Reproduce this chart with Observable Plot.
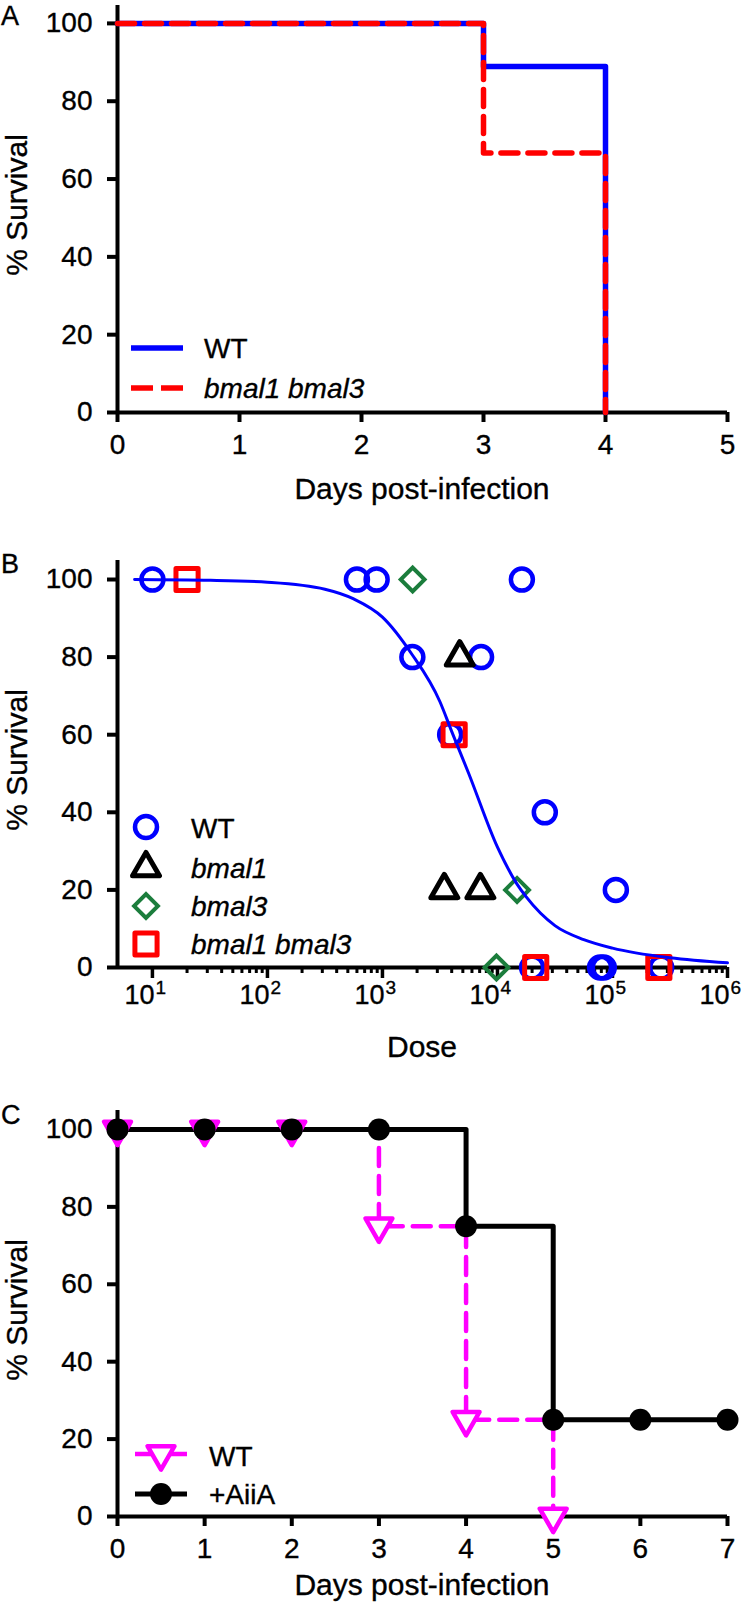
<!DOCTYPE html>
<html><head><meta charset="utf-8">
<script src="https://cdn.jsdelivr.net/npm/d3@7"></script>
<script src="https://cdn.jsdelivr.net/npm/@observablehq/plot@0.6"></script>
<style>
body{margin:0;background:#fff;font-family:"Liberation Sans",Arial,sans-serif;}
#root{position:relative;width:750px;height:1606px;overflow:hidden;background:#fff;}
.panel{position:absolute;left:0;}
#overlay{position:absolute;left:0;top:0;pointer-events:none;}
svg text{stroke:#000;stroke-width:0.35px;}
</style></head><body><div id="root"></div>
<script>
// ---------- Panel A data ----------
const daysA = [0, 1, 2, 3, 4];
const survA_WT = [100, 100, 100, 88.9, 0];
const survA_dbl = [100, 100, 100, 66.7, 0];
const ticksA_x = [0, 1, 2, 3, 4, 5];
const ticksY = [0, 20, 40, 60, 80, 100];

// ---------- Panel B data ----------
const wtDose = [10, 600, 890, 16300, 1820, 7200, 3880, 25800, 107000, 20000, 78000, 84000, 265000];
const wtSurv = [100, 100, 100, 100, 80, 80, 60, 40, 20, 0, 0, 0, 0];
const bmal1Dose = [4700, 3450, 7100];
const bmal1Surv = [80, 20, 20];
const bmal3Dose = [1830, 14800, 9800];
const bmal3Surv = [100, 20, 0];
const dblDose = [20, 4200, 21500, 253000];
const dblSurv = [100, 60, 0, 0];
const curveDose = [7, 32, 100, 316, 562, 1000, 1778, 3162, 3981, 5623, 10000, 14791, 17783, 31623, 56234, 100000, 316228, 1000000];
const curveSurv = [100, 99.8, 99.3, 97.5, 95.0, 90.3, 81.0, 68.5, 61.0, 50.0, 31.0, 21.5, 18.2, 10.8, 7.2, 5.0, 2.5, 1.2];
const decadeTicks = [10, 100, 1000, 10000, 100000, 1000000];
const decadeExp = ["1", "2", "3", "4", "5", "6"];
const minorMult = [2, 3, 4, 5, 6, 7, 8, 9];

// ---------- Panel C data ----------
const daysC = [0, 1, 2, 3, 4, 5, 6, 7];
const survC_WT = [100, 100, 100, 75, 25, 0];
const survC_AiiA = [100, 100, 100, 100, 75, 25, 25, 25];
const ticksC_x = [0, 1, 2, 3, 4, 5, 6, 7];

const FONT = "Liberation Sans, Arial, sans-serif";
const BLUE = "#0000ff", RED = "#ff0000", GREEN = "#1b7d3c", MAG = "#ff00ff";
const root = document.getElementById("root");

function place(svg, top) {
  const d = document.createElement("div");
  d.className = "panel";
  d.style.top = top + "px";
  d.appendChild(svg);
  root.appendChild(d);
}
const baseStyle = {fontFamily: FONT, color: "#000", background: "transparent", overflow: "visible"};

// ---------- Panel A ----------
const dataA_WT = daysA.map((d, i) => ({day: d, surv: survA_WT[i]}));
const dataA_dbl = daysA.map((d, i) => ({day: d, surv: survA_dbl[i]}));
const plotA = Plot.plot({
  width: 750, height: 520,
  marginLeft: 117, marginRight: 23, marginTop: 5, marginBottom: 108,
  style: baseStyle,
  x: {domain: [0, 5]},
  y: {domain: [0, 104.6]},
  marks: [
    Plot.ruleX([0], {strokeWidth: 4}),
    Plot.ruleY([0], {strokeWidth: 4}),
    Plot.axisX({ticks: ticksA_x, tickSize: 10, tickPadding: 12, strokeWidth: 4, fontSize: 28, label: null, tickFormat: d => String(d)}),
    Plot.axisY({ticks: ticksY, tickSize: 10, tickPadding: 15, strokeWidth: 4, fontSize: 28, label: null, tickFormat: d => String(d)}),
    Plot.line(dataA_WT, {x: "day", y: "surv", curve: "step-after", stroke: BLUE, strokeWidth: 5.5}),
    Plot.line(dataA_dbl, {x: "day", y: "surv", curve: "step-after", stroke: RED, strokeWidth: 5.5, strokeDasharray: "17,10"})
  ]
});
place(plotA, 0);

// ---------- Panel B ----------
const mk = (dose, surv) => dose.map((d, i) => ({dose: d, surv: surv[i]}));
const minorTicks = decadeTicks.slice(0, 5).flatMap(t => minorMult.map(m => m * t));
const plotB = Plot.plot({
  width: 750, height: 540,
  marginLeft: 117, marginRight: 23, marginTop: 40, marginBottom: 93,
  style: baseStyle,
  x: {type: "log", domain: [4.97, 1000000]},
  y: {domain: [0, 104.9]},
  marks: [
    Plot.ruleX([4.97], {strokeWidth: 4}),
    Plot.ruleY([0], {strokeWidth: 4}),
    Plot.axisX({ticks: decadeTicks, tickSize: 11, tickPadding: 4, strokeWidth: 3.5, label: null, tickFormat: () => ""}),
    Plot.axisX({ticks: minorTicks, tickSize: 6, tickPadding: 4, strokeWidth: 3, label: null, tickFormat: () => ""}),
    Plot.text(decadeTicks, {x: d => d, text: () => "10", frameAnchor: "bottom", textAnchor: "end", dx: 2, dy: 36, fontSize: 27}),
    Plot.text(decadeTicks, {x: d => d, text: (d, i) => decadeExp[i], frameAnchor: "bottom", textAnchor: "start", dx: 3, dy: 26, fontSize: 19}),
    Plot.axisY({ticks: ticksY, tickSize: 10, tickPadding: 15, strokeWidth: 4, fontSize: 28, label: null, tickFormat: d => String(d)}),
    Plot.dot(mk(wtDose, wtSurv), {x: "dose", y: "surv", symbol: "circle", r: 11, stroke: BLUE, strokeWidth: 4.5, fill: "none"}),
    Plot.dot(mk(bmal1Dose, bmal1Surv), {x: "dose", y: "surv", symbol: "triangle", r: 10, stroke: "#000", strokeWidth: 5, strokeLinejoin: "round", fill: "none"}),
    Plot.dot(mk(bmal3Dose, bmal3Surv), {x: "dose", y: "surv", symbol: "square", rotate: 45, r: 9.5, stroke: GREEN, strokeWidth: 4, fill: "none"}),
    Plot.dot(mk(dblDose, dblSurv), {x: "dose", y: "surv", symbol: "square", r: 12.5, stroke: RED, strokeWidth: 5, strokeLinejoin: "round", fill: "none"}),
    Plot.line(mk(curveDose, curveSurv), {x: "dose", y: "surv", curve: "monotone-x", stroke: BLUE, strokeWidth: 3})
  ]
});
place(plotB, 520);

// ---------- Panel C ----------
const dataC_WT = survC_WT.map((s, i) => ({day: daysC[i], surv: s}));
const dataC_AiiA = survC_AiiA.map((s, i) => ({day: daysC[i], surv: s}));
const plotC = Plot.plot({
  width: 750, height: 546,
  marginLeft: 117, marginRight: 23, marginTop: 50, marginBottom: 90,
  style: baseStyle,
  x: {domain: [0, 7]},
  y: {domain: [0, 104.9]},
  marks: [
    Plot.ruleX([0], {strokeWidth: 4}),
    Plot.ruleY([0], {strokeWidth: 4}),
    Plot.axisX({ticks: ticksC_x, tickSize: 10, tickPadding: 12, strokeWidth: 4, fontSize: 28, label: null, tickFormat: d => String(d)}),
    Plot.axisY({ticks: ticksY, tickSize: 10, tickPadding: 15, strokeWidth: 4, fontSize: 28, label: null, tickFormat: d => String(d)}),
    Plot.line(dataC_WT, {x: "day", y: "surv", curve: "step-after", stroke: MAG, strokeWidth: 4.5, strokeDasharray: "18,10"}),
    Plot.line(dataC_AiiA, {x: "day", y: "surv", curve: "step-after", stroke: "#000", strokeWidth: 5}),
    Plot.dot(dataC_WT, {x: "day", y: "surv", symbol: "triangle", rotate: 180, r: 10, stroke: MAG, strokeWidth: 4.5, strokeLinejoin: "round", fill: "white"}),
    Plot.dot(dataC_AiiA, {x: "day", y: "surv", symbol: "circle", r: 11, fill: "#000"})
  ]
});
place(plotC, 1060);

// ---------- Overlay: panel letters, axis titles, legends ----------
const ov = d3.select(root).append("svg").attr("id", "overlay")
  .attr("width", 750).attr("height", 1606).attr("font-family", FONT);

function txt(s, x, y, size, opts = {}) {
  const t = ov.append("text").attr("x", x).attr("y", y).attr("dy", "0.35em")
    .attr("font-size", size).attr("fill", "#000")
    .attr("text-anchor", opts.anchor || "start").text(s);
  if (opts.italic) t.attr("font-style", "italic");
  if (opts.rotate) t.attr("transform", `rotate(-90 ${x} ${y})`);
  return t;
}
// panel letters
txt("A", 1, 16, 27);
txt("B", 1, 564, 27);
txt("C", 1, 1115, 27);
// axis titles
txt("% Survival", 16, 205, 30, {anchor: "middle", rotate: true});
txt("% Survival", 16, 760, 30, {anchor: "middle", rotate: true});
txt("% Survival", 16, 1310, 30, {anchor: "middle", rotate: true});
txt("Days post-infection", 422, 488, 30, {anchor: "middle"});
txt("Dose", 422, 1046, 30, {anchor: "middle"});
txt("Days post-infection", 422, 1584, 30, {anchor: "middle"});

// legend A
ov.append("line").attr("x1", 131).attr("x2", 183).attr("y1", 348).attr("y2", 348)
  .attr("stroke", BLUE).attr("stroke-width", 5.5);
ov.append("line").attr("x1", 131).attr("x2", 183).attr("y1", 388).attr("y2", 388)
  .attr("stroke", RED).attr("stroke-width", 5.5).attr("stroke-dasharray", "22,8");
txt("WT", 204, 348, 28);
txt("bmal1 bmal3", 204, 388, 28, {italic: true});

// legend B
const sym = (type, size) => d3.symbol(type, size)();
ov.append("path").attr("d", sym(d3.symbolCircle, Math.PI * 121)).attr("transform", "translate(146,827)")
  .attr("fill", "none").attr("stroke", BLUE).attr("stroke-width", 4.5);
ov.append("path").attr("d", sym(d3.symbolTriangle, Math.PI * 100)).attr("transform", "translate(146,868)")
  .attr("fill", "none").attr("stroke", "#000").attr("stroke-width", 5).attr("stroke-linejoin", "round");
ov.append("path").attr("d", sym(d3.symbolSquare, Math.PI * 90.25)).attr("transform", "translate(146,906) rotate(45)")
  .attr("fill", "none").attr("stroke", GREEN).attr("stroke-width", 4);
ov.append("path").attr("d", sym(d3.symbolSquare, Math.PI * 156.25)).attr("transform", "translate(146,944)")
  .attr("fill", "none").attr("stroke", RED).attr("stroke-width", 5).attr("stroke-linejoin", "round");
txt("WT", 191, 828, 28);
txt("bmal1", 191, 868, 28, {italic: true});
txt("bmal3", 191, 906, 28, {italic: true});
txt("bmal1 bmal3", 191, 944, 28, {italic: true});

// legend C
ov.append("line").attr("x1", 135).attr("x2", 187).attr("y1", 1454).attr("y2", 1454)
  .attr("stroke", MAG).attr("stroke-width", 4.5);
ov.append("path").attr("d", sym(d3.symbolTriangle, Math.PI * 100)).attr("transform", "translate(161,1454) rotate(180)")
  .attr("fill", "white").attr("stroke", MAG).attr("stroke-width", 4.5).attr("stroke-linejoin", "round");
ov.append("line").attr("x1", 135).attr("x2", 187).attr("y1", 1494).attr("y2", 1494)
  .attr("stroke", "#000").attr("stroke-width", 5);
ov.append("path").attr("d", sym(d3.symbolCircle, Math.PI * 121)).attr("transform", "translate(161,1494)")
  .attr("fill", "#000");
txt("WT", 209, 1456, 28);
txt("+AiiA", 209, 1494, 28);
</script></body></html>
